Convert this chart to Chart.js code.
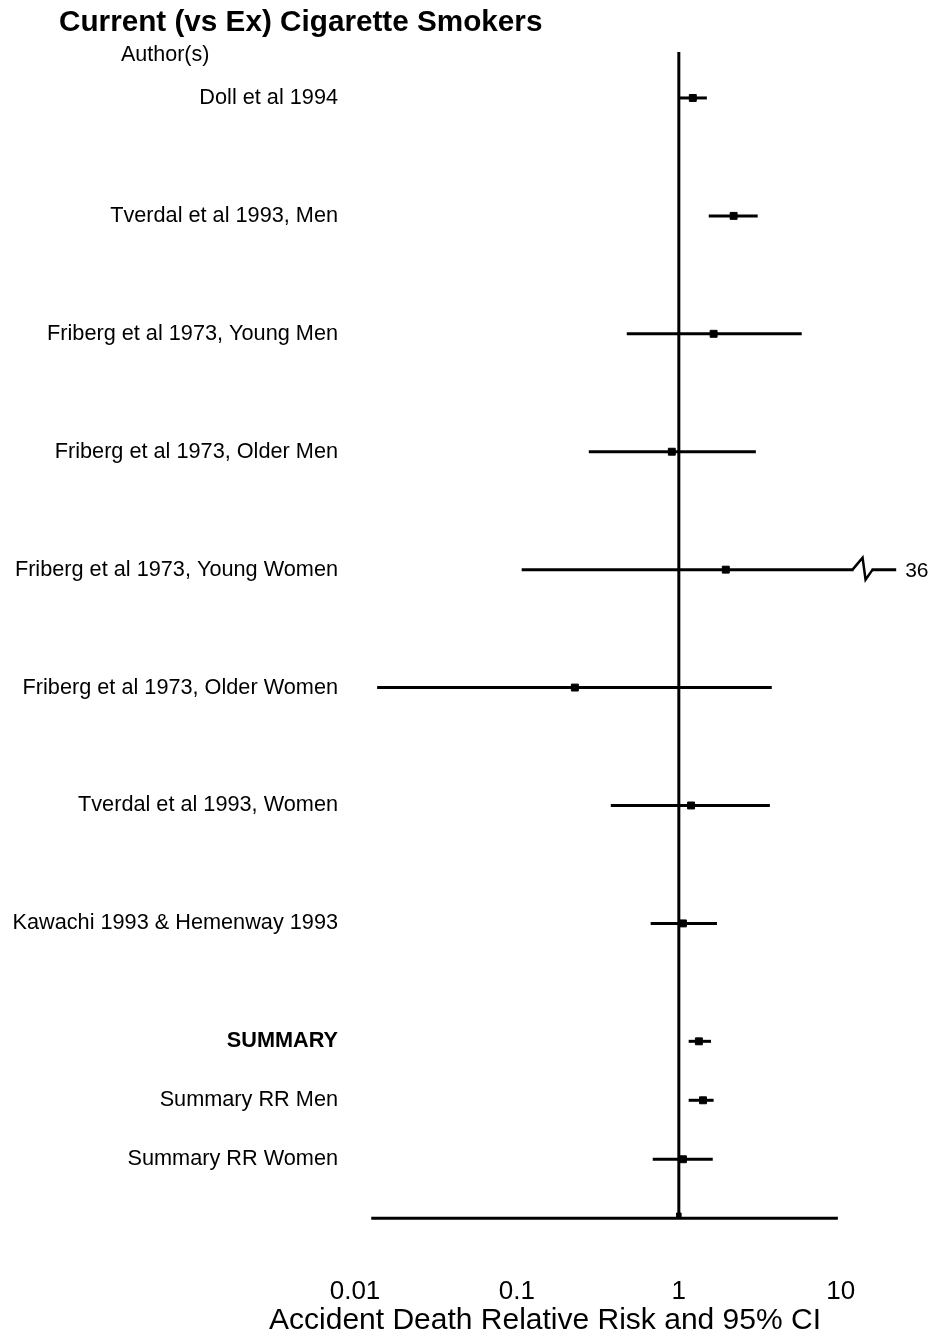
<!DOCTYPE html>
<html><head><meta charset="utf-8">
<script src="https://cdn.jsdelivr.net/npm/chart.js@4"></script>
<style>html,body{margin:0;padding:0;background:#fff}#wrap{width:930px;height:1332px;position:relative}</style>
</head><body><div id="wrap"><canvas id="c" width="930" height="1332"></canvas></div>
<script>
const chartTitle = "Current (vs Ex) Cigarette Smokers";
const columnHeader = "Author(s)";
const axisTitle = "Accident Death Relative Risk and 95% CI";
const studies = ["Doll et al 1994","Tverdal et al 1993, Men","Friberg et al 1973, Young Men","Friberg et al 1973, Older Men","Friberg et al 1973, Young Women","Friberg et al 1973, Older Women","Tverdal et al 1993, Women","Kawachi 1993 & Hemenway 1993","SUMMARY","Summary RR Men","Summary RR Women"];
const rowPos = [0,1,2,3,4,5,6,7,8,8.5,9];
const rr     = [1.22,2.18,1.64,0.905,1.95,0.228,1.19,1.06,1.33,1.41,1.06];
const ciLow  = [0.99,1.53,0.477,0.278,0.107,0.0137,0.38,0.67,1.15,1.15,0.69];
const ciHigh = [1.49,3.07,5.74,2.99,36,3.75,3.65,1.72,1.58,1.64,1.62];
const xTicks = [0.01,0.1,1,10];
const boldRows = ["SUMMARY"];
const displayCap = 22, breakFrom = 12, breakTo = 15.5;
const refTop = -0.39, baseRow = 9.5, baseFrom = 0.0126, baseTo = 9.6;

const FONT = '"Liberation Sans", Arial, sans-serif';
const black = '#000';

const datasets = [];
rowPos.forEach((y, i) => {
  datasets.push({data:[{x:ciLow[i],y},{x:Math.min(ciHigh[i],displayCap),y}], showLine:true, borderColor:black, borderWidth:3, pointRadius:0});
});
datasets.push({data:[{x:1,y:refTop},{x:1,y:baseRow}], showLine:true, borderColor:black, borderWidth:3, pointRadius:0});
datasets.push({data:[{x:baseFrom,y:baseRow},{x:baseTo,y:baseRow}], showLine:true, borderColor:black, borderWidth:3, pointRadius:0});
datasets.push({data:rowPos.map((y,i)=>({x:rr[i],y})), pointStyle:'rect', pointRadius:4.9, backgroundColor:black, borderColor:black, borderWidth:1});
datasets.push({data:[{x:1,y:baseRow-0.025}], pointStyle:'rect', pointRadius:3.2, backgroundColor:black, borderColor:black, borderWidth:1});

const decor = {
  id:'decor',
  afterDatasetsDraw(chart){
    const ctx = chart.ctx, xs = chart.scales.x, ys = chart.scales.y;
    ctx.save();
    rowPos.forEach((r,i)=>{
      if (ciHigh[i] > displayCap){
        const y = ys.getPixelForValue(r);
        const x1 = xs.getPixelForValue(breakFrom), x2 = xs.getPixelForValue(breakTo);
        ctx.fillStyle='#fff'; ctx.fillRect(x1, y-3, x2-x1, 6);
        ctx.strokeStyle=black; ctx.lineWidth=2.5; ctx.lineJoin='miter';
        ctx.beginPath(); ctx.moveTo(x1-1,y); ctx.lineTo(x1+9,y-12); ctx.lineTo(x1+12,y+10); ctx.lineTo(x2+1,y); ctx.stroke();
        ctx.fillStyle=black; ctx.font='21px '+FONT; ctx.textBaseline='middle'; ctx.textAlign='left';
        ctx.fillText(String(ciHigh[i]), xs.getPixelForValue(displayCap)+9, y+2);
      }
    });
    ctx.fillStyle=black; ctx.textBaseline='middle'; ctx.textAlign='left';
    ctx.font='bold 29.7px '+FONT; ctx.fillText(chartTitle, 59, 23);
    ctx.font='21.5px '+FONT; ctx.fillText(columnHeader, 121, 55);
    ctx.textAlign='center'; ctx.font='30px '+FONT;
    ctx.fillText(axisTitle, 545, 1321);
    ctx.restore();
  }
};

new Chart(document.getElementById('c'), {
  type:'scatter',
  data:{datasets},
  plugins:[decor],
  options:{
    responsive:false, animation:false, devicePixelRatio:1,
    layout:{padding:{top:39, right:12, bottom:0, left:0}},
    plugins:{legend:{display:false}, tooltip:{enabled:false}},
    scales:{
      x:{type:'logarithmic', min:0.01, max:30,
        grid:{display:false, drawTicks:false}, border:{display:false},
        afterBuildTicks(s){ s.ticks = xTicks.map(v=>({value:v})); },
        afterFit(s){ s.height = 102; },
        ticks:{color:black, font:{family:FONT, size:26}, padding:46, maxRotation:0, autoSkip:false,
          callback:(v)=> xTicks.includes(v) ? String(v) : ''},
        title:{display:false}
      },
      y:{type:'linear', reverse:true, min:-0.5, max:9.6,
        grid:{display:false, drawTicks:false}, border:{display:false},
        afterBuildTicks(s){ s.ticks = rowPos.map(v=>({value:v})); },
        afterFit(s){ s.width = 355; },
        ticks:{color:black, padding:17, autoSkip:false,
          font:(c)=>({family:FONT, size:21.7, weight: (c.tick && boldRows.includes(studies[rowPos.indexOf(c.tick.value)])) ? 'bold':'normal'}),
          callback:(v)=>{ const i=rowPos.indexOf(v); return i>=0 ? studies[i] : ''; }}
      }
    }
  }
});
</script></body></html>
